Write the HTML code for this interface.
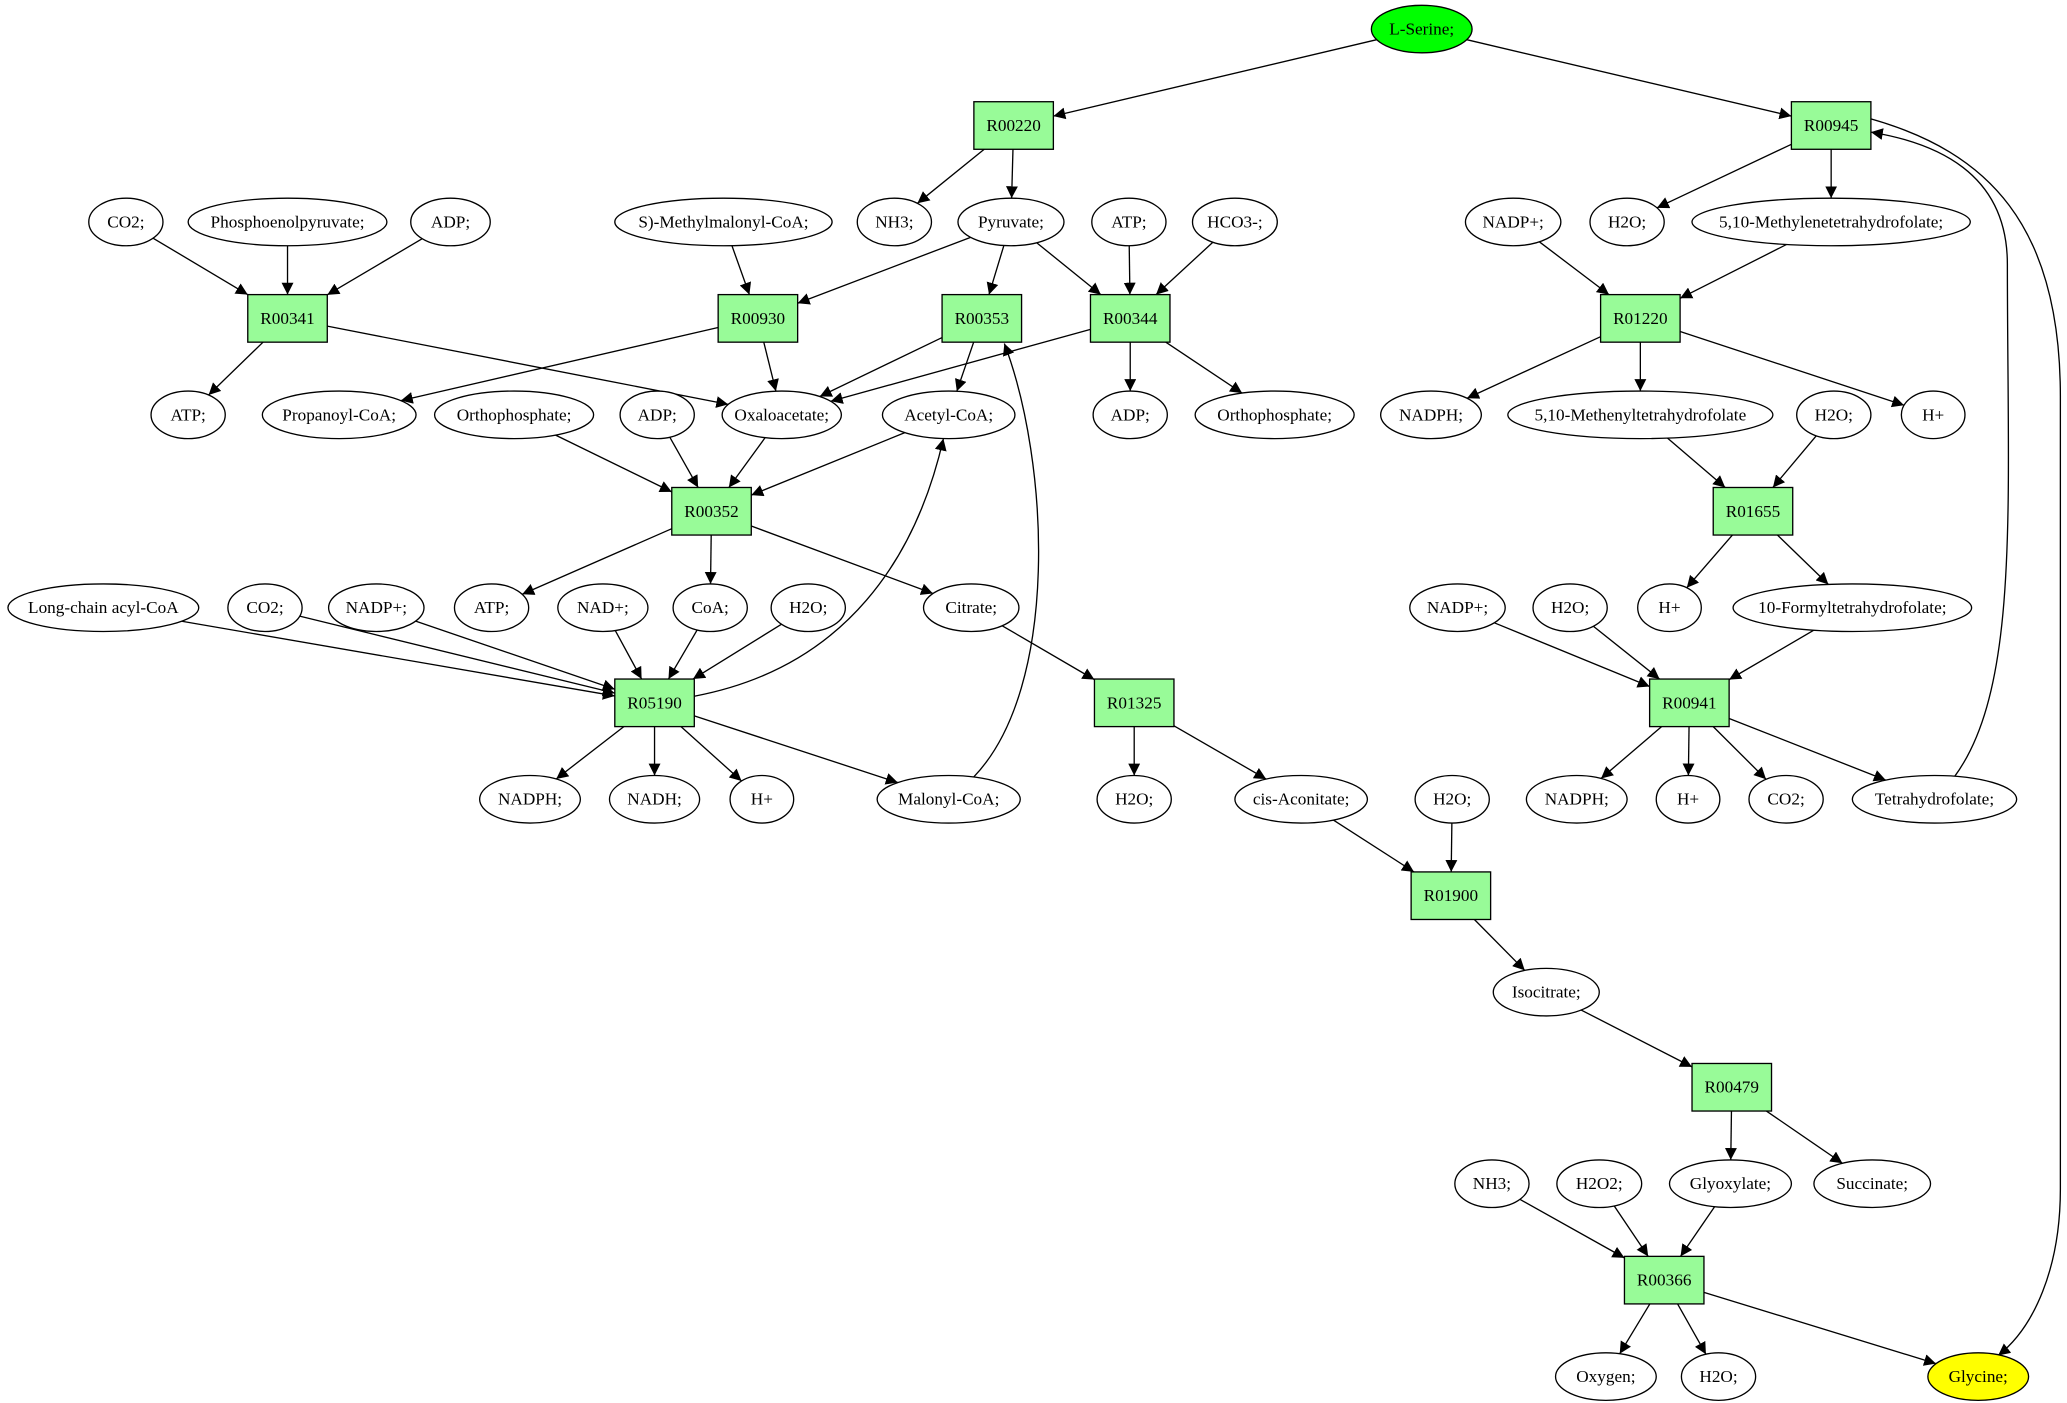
<!DOCTYPE html>
<html><head><meta charset="utf-8"><style>
html,body{margin:0;padding:0;background:#fff;}
svg{display:block;}
text{font-family:"Liberation Serif",serif;font-size:13px;text-anchor:middle;dominant-baseline:central;fill:#000;}
</style></head><body>
<svg id="s" width="2067" height="1403" viewBox="0 0 1560 1062" preserveAspectRatio="none" xmlns="http://www.w3.org/2000/svg">
<defs><marker id="a" viewBox="0 0 10 10" refX="10" refY="5" markerWidth="9" markerHeight="9" markerUnits="userSpaceOnUse" orient="auto"><path d="M0,0L10,5L0,10z" fill="#000"/></marker></defs>
<g id="e" stroke="#000" stroke-width="1" fill="none"></g>
<g id="n"></g>
</svg>
<script>
var N={
Ser:['e',1073,22,38,'L-Serine;','#00ff00'],
R00220:['b',765,95],R00945:['b',1382,95],
CO2a:['e',95,168,28,'CO2;'],PEP:['e',217,168,75,'Phosphoenolpyruvate;'],ADPa:['e',340,168,30,'ADP;'],
SMM:['e',546,168,82,'S)-Methylmalonyl-CoA;'],NH3a:['e',675,168,28,'NH3;'],Pyr:['e',763,168,40,'Pyruvate;'],
ATPa:['e',852,168,28,'ATP;'],HCO3:['e',932,168,32,'HCO3-;'],NADPa:['e',1142,168,36,'NADP+;'],
H2Oa:['e',1228,168,28,'H2O;'],MTHF:['e',1382,168,105,'5,10-Methylenetetrahydrofolate;'],
R00341:['b',217,241],R00930:['b',572,241],R00353:['b',741,241],R00344:['b',853,241],R01220:['b',1238,241],
ATPb:['e',142,314,28,'ATP;'],Prop:['e',256,314,58,'Propanoyl-CoA;'],Pia:['e',388,314,60,'Orthophosphate;'],
ADPb:['e',496,314,28,'ADP;'],Oxa:['e',590,314,45,'Oxaloacetate;'],Acet:['e',716,314,50,'Acetyl-CoA;'],
ADPc:['e',853,314,28,'ADP;'],Pib:['e',962,314,60,'Orthophosphate;'],NADPHa:['e',1080,314,38,'NADPH;'],
MeTHF:['e',1238,314,100,'5,10-Methenyltetrahydrofolate'],H2Ob:['e',1384,314,28,'H2O;'],Ha:['e',1459,314,24,'H+'],
R00352:['b',537,387],R01655:['b',1323,387],
LCA:['e',78,460,72,'Long-chain acyl-CoA'],CO2b:['e',200,460,28,'CO2;'],NADPb:['e',284,460,36,'NADP+;'],
ATPc:['e',371,460,28,'ATP;'],NAD:['e',455,460,34,'NAD+;'],CoA:['e',536,460,28,'CoA;'],H2Oc:['e',610,460,28,'H2O;'],
Cit:['e',733,460,36,'Citrate;'],NADPc:['e',1100,460,36,'NADP+;'],H2Od:['e',1185,460,28,'H2O;'],Hb:['e',1260,460,24,'H+'],
FTHF:['e',1398,460,90,'10-Formyltetrahydrofolate;'],
R05190:['b',494,532],R01325:['b',856,532],R00941:['b',1275,532],
NADPHb:['e',400,605,38,'NADPH;'],NADH:['e',494,605,34,'NADH;'],Hc:['e',575,605,24,'H+'],Mal:['e',716,605,54,'Malonyl-CoA;'],
H2Oe:['e',856,605,28,'H2O;'],Acon:['e',982,605,50,'cis-Aconitate;'],H2Of:['e',1096,605,28,'H2O;'],
NADPHc:['e',1190,605,38,'NADPH;'],Hd:['e',1274,605,24,'H+'],CO2c:['e',1348,605,28,'CO2;'],THF:['e',1460,605,62,'Tetrahydrofolate;'],
R01900:['b',1095,678],Iso:['e',1167,751,40,'Isocitrate;'],R00479:['b',1307,823],
NH3b:['e',1126,896,28,'NH3;'],H2O2:['e',1207,896,32,'H2O2;'],Gly:['e',1306,896,46,'Glyoxylate;'],Suc:['e',1413,896,44,'Succinate;'],
R00366:['b',1256,969],Oxy:['e',1212,1042,38,'Oxygen;'],H2Og:['e',1297,1042,28,'H2O;'],Glycine:['e',1493,1042,38,'Glycine;','#ffff00']
};
var E=[['Ser','R00220'],['Ser','R00945'],['R00220','NH3a'],['R00220','Pyr'],['R00945','H2Oa'],['R00945','MTHF'],
['CO2a','R00341'],['PEP','R00341'],['ADPa','R00341'],['R00341','ATPb'],['R00341','Oxa'],
['SMM','R00930'],['Pyr','R00930'],['R00930','Prop'],['R00930','Oxa'],
['Pyr','R00353'],['R00353','Oxa'],['R00353','Acet'],
['Pyr','R00344'],['ATPa','R00344'],['HCO3','R00344'],['R00344','Oxa'],['R00344','ADPc'],['R00344','Pib'],
['NADPa','R01220'],['MTHF','R01220'],['R01220','NADPHa'],['R01220','MeTHF'],['R01220','Ha'],
['Pia','R00352'],['ADPb','R00352'],['Oxa','R00352'],['Acet','R00352'],['R00352','ATPc'],['R00352','CoA'],['R00352','Cit'],
['MeTHF','R01655'],['H2Ob','R01655'],['R01655','Hb'],['R01655','FTHF'],
['LCA','R05190'],['CO2b','R05190'],['NADPb','R05190'],['NAD','R05190'],['CoA','R05190'],['H2Oc','R05190'],
['R05190','NADPHb'],['R05190','NADH'],['R05190','Hc'],['R05190','Mal'],
['Cit','R01325'],['R01325','H2Oe'],['R01325','Acon'],
['NADPc','R00941'],['H2Od','R00941'],['FTHF','R00941'],['R00941','NADPHc'],['R00941','Hd'],['R00941','CO2c'],['R00941','THF'],
['Acon','R01900'],['H2Of','R01900'],['R01900','Iso'],['Iso','R00479'],['R00479','Gly'],['R00479','Suc'],
['NH3b','R00366'],['H2O2','R00366'],['Gly','R00366'],['R00366','Oxy'],['R00366','H2Og'],['R00366','Glycine']];
function clip(n,dx,dy){
 var x=n[1],y=n[2];
 if(n[0]=='b'){var t=Math.min(30/Math.abs(dx||1e-9),18/Math.abs(dy||1e-9));return [x+dx*t,y+dy*t];}
 var a=n[3],b=18,t=1/Math.sqrt(dx*dx/(a*a)+dy*dy/(b*b));return [x+dx*t,y+dy*t];}
var g=document.getElementById('e'),h='';
E.forEach(function(p){var A=N[p[0]],B=N[p[1]];var dx=B[1]-A[1],dy=B[2]-A[2];
 var s=clip(A,dx,dy),t=clip(B,-dx,-dy);
 h+='<line x1="'+s[0]+'" y1="'+s[1]+'" x2="'+t[0]+'" y2="'+t[1]+'" marker-end="url(#a)"/>';});
h+='<path d="M524,527 C640,505 692,420 712,332" marker-end="url(#a)"/>';
h+='<path d="M735,588 C800,520 792,350 758,260" marker-end="url(#a)"/>';
h+='<path d="M1475,588 C1525,520 1515,380 1515,200 C1515,130 1460,108 1412,100" marker-end="url(#a)"/>';
h+='<path d="M1412,90 C1500,115 1555,170 1555,300 L1555,900 C1555,960 1535,1005 1508,1026" marker-end="url(#a)"/>';
g.innerHTML=h;
var m='';
for(var k in N){var n=N[k];
 if(n[0]=='b'){m+='<rect x="'+(n[1]-30)+'" y="'+(n[2]-18)+'" width="60" height="36" fill="#98fb98" stroke="#000"/><text x="'+n[1]+'" y="'+n[2]+'">'+k+'</text>';}
 else{m+='<ellipse cx="'+n[1]+'" cy="'+n[2]+'" rx="'+n[3]+'" ry="18" fill="'+(n[5]||'#fff')+'" stroke="#000"/><text x="'+n[1]+'" y="'+n[2]+'">'+n[4]+'</text>';}}
document.getElementById('n').innerHTML=m;
</script>
</body></html>
